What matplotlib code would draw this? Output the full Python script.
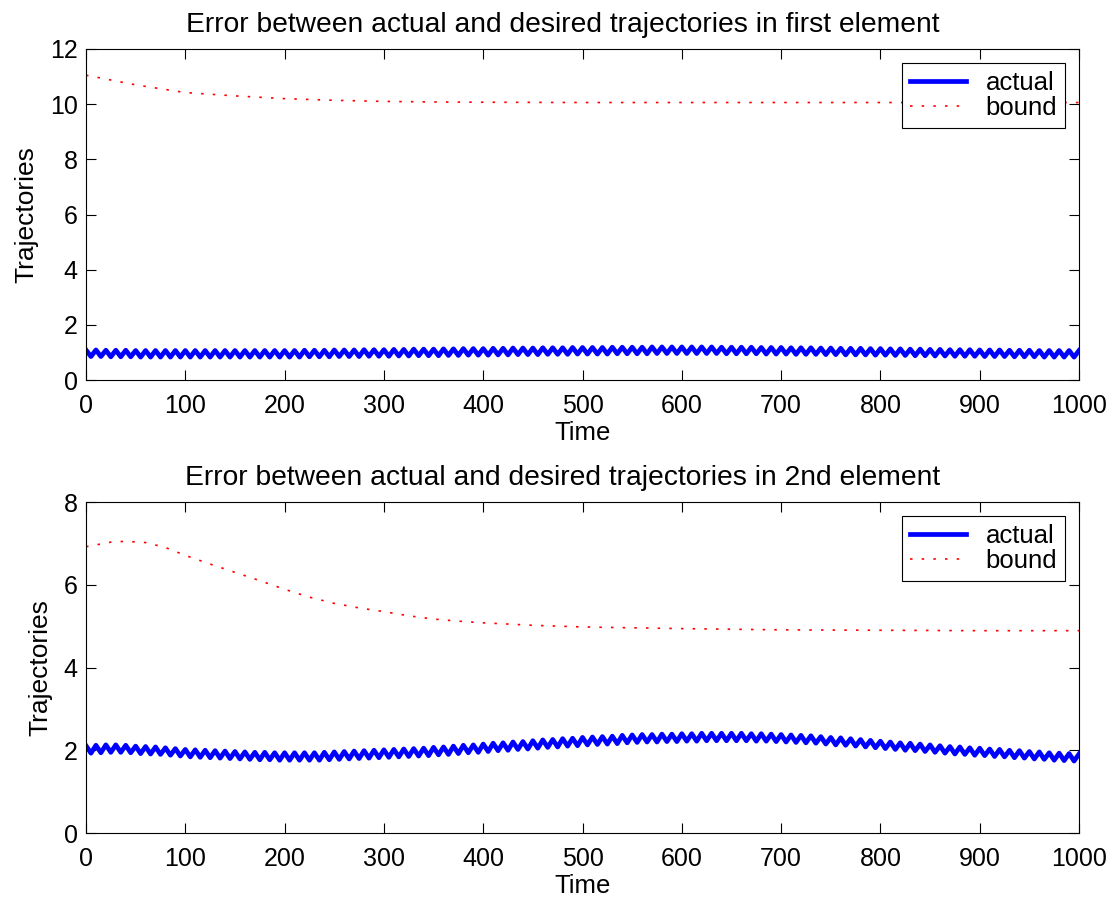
import numpy as np
import matplotlib
matplotlib.use("Agg")
import matplotlib.pyplot as plt

plt.rcParams['font.family'] = ['Liberation Sans', 'DejaVu Sans']

# ---- data ----
# time of each extremum of the oscillating "actual" curve (crest, trough, crest, ...)
t_ext = np.arange(0, 1001, 5)

# first element: crests at t = 0, 10, ..., 1000 ; troughs at t = 5, 15, ..., 995
crest1 = [1.09, 1.09, 1.08, 1.08, 1.08, 1.07, 1.07, 1.07, 1.07, 1.07,
          1.07, 1.07, 1.07, 1.07, 1.07, 1.07, 1.07, 1.07, 1.07, 1.07,
          1.07, 1.07, 1.08, 1.08, 1.08, 1.09, 1.09, 1.09, 1.10, 1.10,
          1.10, 1.11, 1.11, 1.12, 1.12, 1.12, 1.13, 1.13, 1.14, 1.14,
          1.14, 1.15, 1.15, 1.16, 1.16, 1.16, 1.17, 1.17, 1.17, 1.18,
          1.18, 1.18, 1.18, 1.19, 1.19, 1.19, 1.19, 1.20, 1.20, 1.20,
          1.20, 1.20, 1.20, 1.20, 1.19, 1.19, 1.19, 1.19, 1.18, 1.18,
          1.18, 1.17, 1.17, 1.17, 1.16, 1.16, 1.15, 1.15, 1.15, 1.14,
          1.14, 1.13, 1.13, 1.12, 1.12, 1.11, 1.11, 1.10, 1.10, 1.10,
          1.09, 1.09, 1.09, 1.08, 1.08, 1.08, 1.07, 1.07, 1.07, 1.07,
          1.07]
trough1 = [0.85, 0.85, 0.84, 0.84, 0.84, 0.83, 0.83, 0.83, 0.83, 0.83,
           0.83, 0.83, 0.83, 0.83, 0.83, 0.83, 0.83, 0.83, 0.83, 0.83,
           0.83, 0.83, 0.84, 0.84, 0.84, 0.85, 0.85, 0.85, 0.86, 0.86,
           0.86, 0.87, 0.87, 0.88, 0.88, 0.88, 0.89, 0.89, 0.90, 0.90,
           0.90, 0.91, 0.91, 0.92, 0.92, 0.92, 0.93, 0.93, 0.93, 0.94,
           0.94, 0.94, 0.94, 0.95, 0.95, 0.95, 0.95, 0.96, 0.96, 0.96,
           0.96, 0.96, 0.96, 0.96, 0.95, 0.95, 0.95, 0.95, 0.94, 0.94,
           0.94, 0.93, 0.93, 0.93, 0.92, 0.92, 0.91, 0.91, 0.91, 0.90,
           0.90, 0.89, 0.89, 0.88, 0.88, 0.87, 0.87, 0.86, 0.86, 0.86,
           0.85, 0.85, 0.85, 0.84, 0.84, 0.84, 0.83, 0.83, 0.83, 0.83]

# second element
crest2 = [2.11, 2.12, 2.13, 2.13, 2.12, 2.10, 2.09, 2.08, 2.06, 2.04,
          2.02, 2.01, 2.00, 1.99, 1.98, 1.97, 1.96, 1.95, 1.95, 1.94,
          1.94, 1.94, 1.94, 1.94, 1.95, 1.96, 1.97, 1.98, 1.99, 2.00,
          2.01, 2.02, 2.03, 2.04, 2.05, 2.07, 2.08, 2.10, 2.12, 2.13,
          2.15, 2.17, 2.18, 2.20, 2.21, 2.23, 2.25, 2.26, 2.28, 2.29,
          2.31, 2.32, 2.33, 2.34, 2.36, 2.37, 2.38, 2.38, 2.39, 2.39,
          2.40, 2.40, 2.41, 2.41, 2.41, 2.41, 2.41, 2.40, 2.40, 2.39,
          2.38, 2.37, 2.36, 2.35, 2.33, 2.31, 2.30, 2.28, 2.26, 2.24,
          2.22, 2.20, 2.18, 2.17, 2.15, 2.13, 2.11, 2.09, 2.08, 2.06,
          2.05, 2.03, 2.02, 2.00, 1.99, 1.97, 1.96, 1.94, 1.93, 1.92,
          1.91]
trough2 = [1.93, 1.94, 1.95, 1.95, 1.94, 1.92, 1.91, 1.90, 1.88, 1.86,
           1.84, 1.83, 1.82, 1.81, 1.80, 1.79, 1.78, 1.77, 1.77, 1.76,
           1.76, 1.76, 1.76, 1.76, 1.77, 1.78, 1.79, 1.80, 1.81, 1.82,
           1.83, 1.84, 1.85, 1.86, 1.87, 1.89, 1.90, 1.92, 1.94, 1.95,
           1.97, 1.99, 2.00, 2.02, 2.03, 2.05, 2.07, 2.08, 2.10, 2.11,
           2.13, 2.14, 2.15, 2.16, 2.18, 2.19, 2.20, 2.20, 2.21, 2.21,
           2.22, 2.22, 2.23, 2.23, 2.23, 2.23, 2.23, 2.22, 2.22, 2.21,
           2.20, 2.19, 2.18, 2.17, 2.15, 2.13, 2.12, 2.10, 2.08, 2.06,
           2.04, 2.02, 2.00, 1.99, 1.97, 1.95, 1.93, 1.91, 1.90, 1.88,
           1.87, 1.85, 1.84, 1.82, 1.81, 1.79, 1.78, 1.76, 1.75, 1.74]

# bounds
t_b1 = [0, 50, 100, 150, 200, 250, 300, 350, 400, 500, 600, 700, 800, 900, 1000]
bound1 = [11.05, 10.70, 10.42, 10.30, 10.20, 10.14, 10.10, 10.08, 10.07,
          10.06, 10.06, 10.06, 10.06, 10.06, 10.06]

t_b2 = [0, 25, 40, 60, 80, 100, 125, 150, 175, 200, 225, 250, 275, 300,
        325, 350, 375, 400, 450, 500, 600, 700, 800, 900, 1000]
bound2 = [6.92, 7.03, 7.05, 7.02, 6.90, 6.71, 6.50, 6.30, 6.10, 5.89, 5.70,
          5.55, 5.44, 5.35, 5.25, 5.17, 5.12, 5.08, 5.02, 4.98, 4.94, 4.91,
          4.90, 4.89, 4.89]

titles = ["Error between actual and desired trajectories in first element",
          "Error between actual and desired trajectories in 2nd element"]


def zigzag(crest, trough):
    y = np.empty(len(crest) + len(trough))
    y[0::2] = crest
    y[1::2] = trough
    return y


fig = plt.figure(figsize=(11.17, 8.99), dpi=100)
ax1 = fig.add_axes([0.077, 0.5773, 0.889, 0.3682])
ax2 = fig.add_axes([0.077, 0.0734, 0.889, 0.3682])

panels = [
    (ax1, zigzag(crest1, trough1), t_b1, bound1, 12, titles[0]),
    (ax2, zigzag(crest2, trough2), t_b2, bound2, 8, titles[1]),
]

for ax, act, tb, bnd, ymax, title in panels:
    ax.plot(t_ext, act, color='#0000ff', lw=3.4, solid_joinstyle='round',
            label='actual')
    ax.plot(tb, bnd, color='#ff0000', lw=1.2, linestyle=(0, (1.5, 5.5)),
            label='bound')
    ax.set_xlim(0, 1000)
    ax.set_ylim(0, ymax)
    ax.set_xticks(np.arange(0, 1001, 100))
    ax.set_yticks(np.arange(0, ymax + 1, 2))
    ax.tick_params(direction='in', length=7, width=0.8, top=True, right=True,
                   labelsize=18)
    ax.tick_params(axis='x', pad=10)
    ax.tick_params(axis='y', pad=6)
    for s in ax.spines.values():
        s.set_linewidth(0.8)
    ax.set_xlabel('Time', fontsize=18.5, labelpad=2)
    ax.set_ylabel('Trajectories', fontsize=19, labelpad=8)
    ax.set_title(title, fontsize=20.3, pad=12, x=0.48)
    leg = ax.legend(loc='upper right', fontsize=18.5, fancybox=False,
                    framealpha=1, edgecolor='black', handlelength=2.2,
                    borderaxespad=0.55, handletextpad=0.75, labelspacing=0.05,
                    borderpad=0.3)
    leg.get_frame().set_linewidth(0.8)

fig.savefig('out.png', dpi=100)
